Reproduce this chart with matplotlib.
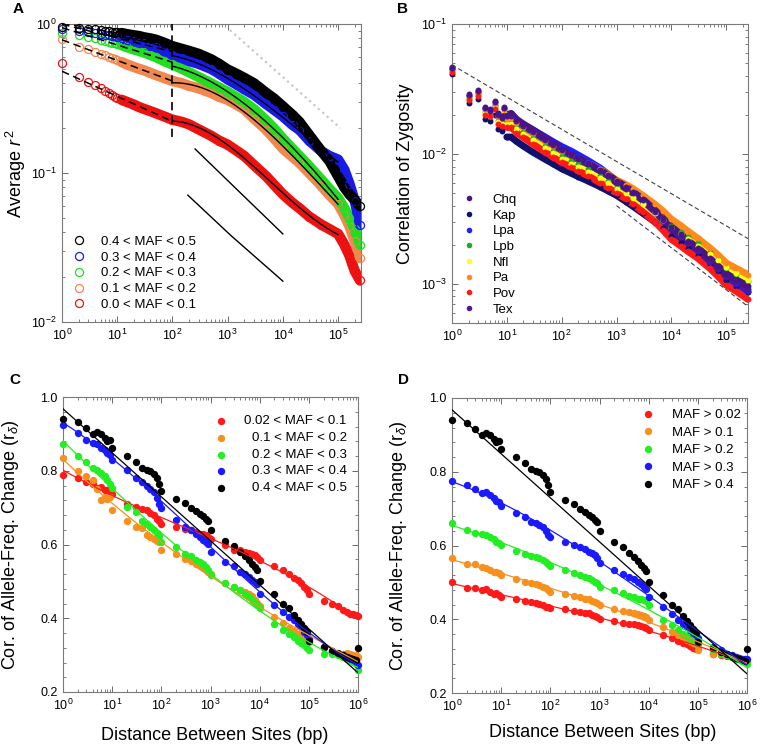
import numpy as np
import matplotlib
matplotlib.use('Agg')
import matplotlib.pyplot as plt
from matplotlib.lines import Line2D
from matplotlib.ticker import LogLocator, NullFormatter, MultipleLocator, FormatStrFormatter

plt.rcParams['font.family'] = ['Liberation Sans', 'DejaVu Sans']
plt.rcParams['mathtext.fontset'] = 'custom'
plt.rcParams['mathtext.rm'] = 'Liberation Sans'
plt.rcParams['mathtext.it'] = 'Liberation Sans:italic'
plt.rcParams['mathtext.bf'] = 'Liberation Sans:bold'

# ---------------- Panel A data ----------------
xa = [1, 2, 3, 4, 5, 6, 7, 8, 9, 10, 12, 15, 20, 25, 30, 40, 50, 70,
      100, 150, 200, 300, 500, 700, 1000, 1500, 2000, 3000, 5000, 7000,
      10000, 15000, 20000, 30000, 50000, 70000, 100000, 130000, 160000, 200000, 250000]
a_labels = ["0.4 < MAF < 0.5", "0.3 < MAF < 0.4", "0.2 < MAF < 0.3", "0.1 < MAF < 0.2", "0.0 < MAF < 0.1"]
a_black = [0.96, 0.94, 0.93, 0.92, 0.91, 0.90, 0.895, 0.89, 0.885, 0.88,
           0.87, 0.855, 0.84, 0.83, 0.815, 0.80, 0.785, 0.75,
           0.71, 0.68, 0.66, 0.63, 0.58, 0.54,
           0.495, 0.46, 0.435, 0.40, 0.345, 0.315,
           0.28, 0.245, 0.22, 0.18, 0.14, 0.12,
           0.095, 0.08, 0.072, 0.066, 0.06]
a_blue = [0.93, 0.90, 0.885, 0.87, 0.86, 0.85, 0.84, 0.83, 0.825, 0.82,
          0.80, 0.785, 0.765, 0.75, 0.74, 0.715, 0.70, 0.66,
          0.62, 0.59, 0.565, 0.54, 0.50, 0.465,
          0.425, 0.39, 0.365, 0.335, 0.29, 0.265,
          0.24, 0.21, 0.195, 0.165, 0.14, 0.13,
          0.123, 0.105, 0.085, 0.065, 0.045]
a_green = [0.87, 0.84, 0.82, 0.80, 0.785, 0.77, 0.76, 0.75, 0.74, 0.735,
           0.72, 0.70, 0.675, 0.66, 0.645, 0.62, 0.60, 0.565,
           0.535, 0.50, 0.475, 0.44, 0.40, 0.375,
           0.35, 0.32, 0.30, 0.268, 0.225, 0.198,
           0.17, 0.145, 0.13, 0.111, 0.09, 0.078,
           0.068, 0.058, 0.05, 0.042, 0.033]
a_orange = [0.79, 0.70, 0.675, 0.65, 0.63, 0.615, 0.60, 0.59, 0.58, 0.57,
            0.555, 0.535, 0.515, 0.50, 0.49, 0.47, 0.455, 0.435,
            0.415, 0.40, 0.385, 0.37, 0.345, 0.325,
            0.31, 0.285, 0.268, 0.232, 0.195, 0.17,
            0.146, 0.128, 0.117, 0.10, 0.082, 0.071,
            0.062, 0.052, 0.044, 0.035, 0.027]
a_red = [0.55, 0.44, 0.41, 0.39, 0.37, 0.355, 0.345, 0.335, 0.325, 0.32,
         0.31, 0.30, 0.288, 0.277, 0.27, 0.26, 0.252, 0.24,
         0.228, 0.22, 0.212, 0.196, 0.178, 0.165,
         0.155, 0.14, 0.13, 0.113, 0.095, 0.083,
         0.072, 0.063, 0.058, 0.051, 0.045, 0.042,
         0.039, 0.033, 0.028, 0.022, 0.019]
a_vline_x = [100, 100]
a_vline_y = [0.175, 1.0]
a_guide1_x = [257, 10000]
a_guide1_y = [0.145, 0.039]
a_guide2_x = [190, 1150, 10000]
a_guide2_y = [0.071, 0.038, 0.0188]
a_gray_x = [1100, 110000]
a_gray_y = [0.91, 0.20]

# ---------------- Panel B data (values x 1e-3) ----------------
xb = [1, 2, 3, 4, 5, 6, 7, 8, 9, 10, 12, 15, 20, 30, 50, 70,
      100, 150, 200, 300, 500, 700, 1000, 1500, 2000, 3000, 5000, 7000,
      10000, 15000, 20000, 30000, 50000, 70000, 100000, 150000, 250000]
b_names = ["Chq", "Kap", "Lpa", "Lpb", "Nfl", "Pa", "Pov", "Tex"]
b_chq = [47, 29, 31, 23, 22, 25.5, 20.5, 19.5, 23, 20, 20.5, 18.5, 17, 15.3, 13.3, 12.2,
         11.0, 10.0, 9.3, 8.5, 7.5, 6.9, 6.2, 5.6, 5.1, 4.5, 3.7, 3.2,
         2.75, 2.4, 2.15, 1.9, 1.58, 1.38, 1.2, 1.08, 0.96]
b_kap = [41, 24.5, 26.5, 18.5, 18, 20, 15.5, 15, 18, 13.5, 13.5, 12.5, 11.5, 10.3, 9.1, 8.4,
         7.7, 7.1, 6.7, 6.2, 5.6, 5.2, 4.8, 4.3, 3.95, 3.5, 3.0, 2.7,
         2.35, 2.1, 1.9, 1.68, 1.42, 1.25, 1.08, 0.97, 0.86]
b_lpa = [45, 28, 30, 22, 21, 24, 19.5, 18.5, 22, 19, 19.5, 17.8, 16.8, 15.3, 13.5, 12.4,
         11.4, 10.5, 9.8, 8.9, 7.8, 7.0, 6.1, 5.4, 4.9, 4.2, 3.5, 3.1,
         2.65, 2.3, 2.05, 1.78, 1.48, 1.3, 1.13, 1.0, 0.88]
b_lpb = [44, 27, 29, 21, 20, 23, 18, 17.5, 21, 17.5, 17.5, 16, 14.8, 13.3, 11.6, 10.6,
         9.6, 8.8, 8.3, 7.6, 6.8, 6.2, 5.6, 5.1, 4.7, 4.2, 3.6, 3.2,
         2.8, 2.5, 2.3, 2.05, 1.75, 1.55, 1.32, 1.2, 1.05]
b_nfl = [43.5, 26.5, 28.5, 20.5, 19.5, 22.5, 17.5, 17, 20.5, 17, 17, 15.5, 14.3, 12.8, 11.1, 10.1,
         9.2, 8.4, 7.9, 7.3, 6.5, 6.0, 5.4, 5.0, 4.6, 4.1, 3.5, 3.1,
         2.7, 2.4, 2.2, 1.95, 1.7, 1.52, 1.35, 1.22, 1.08]
b_pa = [45.5, 27.5, 30, 22, 21, 24.5, 19.5, 18.8, 22, 18.5, 18.8, 17.2, 16, 14.4, 12.6, 11.6,
        10.6, 9.8, 9.2, 8.5, 7.6, 7.0, 6.3, 5.8, 5.4, 4.8, 4.1, 3.65,
        3.15, 2.8, 2.55, 2.25, 1.9, 1.68, 1.45, 1.32, 1.18]
b_pov = [43, 26, 28, 20, 19.5, 22, 17, 16.5, 20, 16, 16, 14.6, 13.4, 11.9, 10.3, 9.4,
         8.6, 7.9, 7.4, 6.8, 6.0, 5.5, 5.0, 4.5, 4.1, 3.6, 3.0, 2.6,
         2.2, 1.95, 1.78, 1.58, 1.32, 1.15, 0.98, 0.88, 0.76]
b_tex = [46, 28.5, 30.5, 22.5, 21.5, 25, 20, 19, 22.5, 19.5, 19.5, 17.8, 16.5, 14.8, 12.9, 11.8,
         10.7, 9.8, 9.1, 8.4, 7.4, 6.8, 6.0, 5.4, 5.0, 4.4, 3.6, 3.1,
         2.65, 2.3, 2.08, 1.82, 1.5, 1.32, 1.15, 1.04, 0.92]
b_upper_x = [1, 250000]
b_upper_y = [0.0484, 0.00223]
b_lower_x = [1000, 250000]
b_lower_y = [0.0040, 0.00067]

# ---------------- Panels C & D data ----------------
xc = [1, 2, 3, 4, 5, 6, 7, 8, 9, 10,
      20, 30, 40, 50, 60, 70, 80, 90, 100,
      200, 300, 400, 500, 600, 700, 800, 900, 1000,
      2000, 3000, 4000, 5000, 6000, 7000, 8000, 9000, 10000,
      20000, 30000, 40000, 50000, 60000, 70000, 80000, 90000, 100000,
      200000, 300000, 400000, 500000, 600000, 700000, 800000, 900000, 1000000]
c_labels = ["0.02 < MAF < 0.1", "0.1 < MAF < 0.2", "0.2 < MAF < 0.3", "0.3 < MAF < 0.4", "0.4 < MAF < 0.5"]
d_labels = ["MAF > 0.02", "MAF > 0.1", "MAF > 0.2", "MAF > 0.3", "MAF > 0.4"]
cd_black = [0.941, 0.932, 0.917, 0.901, 0.904, 0.901, 0.889, 0.880, 0.884, 0.862,
            0.839, 0.824, 0.807, 0.803, 0.798, 0.792, 0.781, 0.765, 0.745,
            0.724, 0.713, 0.700, 0.691, 0.684, 0.676, 0.670, 0.665, 0.640,
            0.610, 0.595, 0.580, 0.568, 0.557, 0.548, 0.539, 0.530, 0.501,
            0.465, 0.440, 0.429, 0.408, 0.394, 0.385, 0.374, 0.363, 0.337,
            0.322, 0.310, 0.305, 0.300, 0.296, 0.292, 0.290, 0.287, 0.318]
c_blue = [0.923, 0.902, 0.884, 0.875, 0.872, 0.863, 0.855, 0.848, 0.842, 0.828,
          0.803, 0.781, 0.769, 0.760, 0.751, 0.742, 0.727, 0.711, 0.700,
          0.666, 0.647, 0.638, 0.629, 0.620, 0.613, 0.607, 0.602, 0.580,
          0.553, 0.541, 0.525, 0.519, 0.512, 0.505, 0.498, 0.492, 0.467,
          0.435, 0.417, 0.403, 0.394, 0.385, 0.376, 0.363, 0.354, 0.345,
          0.322, 0.311, 0.304, 0.300, 0.295, 0.290, 0.286, 0.281, 0.272]
c_green = [0.872, 0.839, 0.824, 0.808, 0.801, 0.794, 0.785, 0.774, 0.765, 0.754,
           0.703, 0.688, 0.665, 0.656, 0.647, 0.638, 0.631, 0.624, 0.607,
           0.593, 0.575, 0.568, 0.559, 0.553, 0.546, 0.539, 0.532, 0.516,
           0.496, 0.485, 0.476, 0.467, 0.458, 0.450, 0.441, 0.435, 0.429,
           0.385, 0.367, 0.358, 0.349, 0.338, 0.333, 0.327, 0.320, 0.313,
           0.304, 0.302, 0.299, 0.295, 0.290, 0.286, 0.281, 0.277, 0.259]
c_orange = [0.835, 0.799, 0.785, 0.774, 0.751, 0.720, 0.729, 0.724, 0.729, 0.694,
            0.665, 0.647, 0.646, 0.625, 0.620, 0.616, 0.609, 0.607, 0.586,
            0.575, 0.562, 0.555, 0.546, 0.541, 0.537, 0.532, 0.525, 0.519,
            0.496, 0.485, 0.477, 0.471, 0.465, 0.459, 0.450, 0.441, 0.432,
            0.403, 0.387, 0.374, 0.365, 0.358, 0.349, 0.345, 0.340, 0.336,
            0.318, 0.308, 0.304, 0.304, 0.306, 0.304, 0.299, 0.299, 0.295]
c_red = [0.788, 0.779, 0.770, 0.765, 0.754, 0.756, 0.749, 0.747, 0.742, 0.738,
         0.711, 0.703, 0.697, 0.693, 0.685, 0.679, 0.670, 0.664, 0.656,
         0.647, 0.643, 0.638, 0.634, 0.629, 0.628, 0.625, 0.620, 0.616,
         0.598, 0.586, 0.584, 0.580, 0.577, 0.575, 0.571, 0.566, 0.559,
         0.543, 0.532, 0.519, 0.510, 0.503, 0.496, 0.485, 0.477, 0.465,
         0.447, 0.440, 0.432, 0.423, 0.417, 0.412, 0.411, 0.408, 0.407]
d_blue = [0.774, 0.764, 0.753, 0.742, 0.744, 0.737, 0.728, 0.722, 0.717, 0.706,
          0.689, 0.677, 0.665, 0.662, 0.656, 0.649, 0.638, 0.629, 0.624,
          0.610, 0.601, 0.597, 0.590, 0.583, 0.579, 0.574, 0.565, 0.552,
          0.533, 0.524, 0.515, 0.508, 0.502, 0.495, 0.488, 0.481, 0.459,
          0.434, 0.414, 0.399, 0.388, 0.379, 0.370, 0.363, 0.357, 0.348,
          0.325, 0.316, 0.307, 0.302, 0.298, 0.296, 0.293, 0.293, 0.293]
d_green = [0.662, 0.642, 0.635, 0.631, 0.629, 0.624, 0.617, 0.610, 0.606, 0.601,
           0.586, 0.577, 0.571, 0.568, 0.565, 0.560, 0.556, 0.550, 0.544,
           0.533, 0.526, 0.520, 0.515, 0.511, 0.506, 0.501, 0.497, 0.488,
           0.479, 0.470, 0.463, 0.461, 0.456, 0.454, 0.452, 0.450, 0.438,
           0.399, 0.384, 0.370, 0.361, 0.354, 0.348, 0.343, 0.339, 0.332,
           0.316, 0.307, 0.302, 0.298, 0.293, 0.291, 0.287, 0.284, 0.278]
d_orange = [0.565, 0.550, 0.550, 0.542, 0.538, 0.533, 0.529, 0.529, 0.526, 0.520,
            0.508, 0.502, 0.497, 0.495, 0.493, 0.488, 0.484, 0.479, 0.475,
            0.468, 0.463, 0.459, 0.456, 0.454, 0.450, 0.447, 0.445, 0.438,
            0.427, 0.423, 0.420, 0.417, 0.414, 0.411, 0.408, 0.405, 0.398,
            0.378, 0.366, 0.357, 0.350, 0.345, 0.341, 0.336, 0.332, 0.316,
            0.307, 0.305, 0.302, 0.300, 0.298, 0.296, 0.293, 0.291, 0.287]
d_red = [0.502, 0.486, 0.486, 0.479, 0.481, 0.475, 0.468, 0.470, 0.465, 0.461,
         0.454, 0.450, 0.447, 0.445, 0.441, 0.438, 0.434, 0.432, 0.430,
         0.427, 0.423, 0.420, 0.417, 0.416, 0.411, 0.408, 0.405, 0.402,
         0.396, 0.390, 0.388, 0.386, 0.384, 0.381, 0.378, 0.375, 0.370,
         0.357, 0.348, 0.341, 0.336, 0.332, 0.327, 0.323, 0.320, 0.318,
         0.307, 0.302, 0.300, 0.298, 0.293, 0.291, 0.289, 0.287, 0.284]
cd_black_fit_x = [1, 1000000]
cd_black_fit_y = [0.968, 0.252]

# ---------------- Styling ----------------
W, H = 760, 749
fig = plt.figure(figsize=(W / 100, H / 100), dpi=100)


def px_axes(l, t, r, b):
    return fig.add_axes([l / W, 1 - b / H, (r - l) / W, (b - t) / H])


def style(ax, logx=True, logy=True):
    if logx:
        ax.set_xscale('log')
        ax.xaxis.set_major_locator(LogLocator(base=10, numticks=20))
        ax.xaxis.set_minor_locator(LogLocator(base=10, subs=np.arange(2, 10), numticks=20))
        ax.xaxis.set_minor_formatter(NullFormatter())
    if logy:
        ax.set_yscale('log')
        ax.yaxis.set_major_locator(LogLocator(base=10, numticks=20))
        ax.yaxis.set_minor_locator(LogLocator(base=10, subs=np.arange(2, 10), numticks=20))
        ax.yaxis.set_minor_formatter(NullFormatter())
    ax.tick_params(which='both', direction='in', top=True, right=True,
                   color='#6a6a6a', labelsize=9, pad=4)
    ax.tick_params(which='major', length=4, width=0.7)
    ax.tick_params(which='minor', length=2, width=0.6)
    for s in ax.spines.values():
        s.set_color('#7a7a7a')
        s.set_linewidth(0.8)


LABFS = 13
LEGFS = 9.5

# ---------------- Panel A ----------------
axA = px_axes(62, 24, 361, 322)
style(axA)
xa_arr = np.array(xa, dtype=float)
a_cols = ['#000000', '#1a1ae6', '#22dd22', '#f2874f', '#ee1111']
a_series = [a_black, a_blue, a_green, a_orange, a_red]
for y, col in list(zip(a_series, a_cols))[::-1]:
    y = np.array(y)
    m = xa_arr >= 12
    axA.plot(xa_arr[m], y[m], '-', color=col, lw=7.5, solid_capstyle='round', zorder=2)
    axA.plot(xa_arr, y, 'o', mfc='none', mec=col, ms=5.8, mew=0.9, clip_on=False, zorder=3)
for y in a_series:
    y = np.array(y)
    m1 = (xa_arr >= 2) & (xa_arr <= 100)
    p1 = np.polyfit(np.log10(xa_arr[m1]), np.log10(y[m1]), 1)
    xf1 = np.logspace(0, 2, 40)
    axA.plot(xf1, 10 ** np.polyval(p1, np.log10(xf1)), color='k', lw=1.1, dashes=(5, 3), zorder=5)
    m2 = (xa_arr >= 100) & (xa_arr <= 1e5)
    p2 = np.polyfit(np.log10(xa_arr[m2]), np.log10(y[m2]), 3)
    xf2 = np.logspace(2, 5, 80)
    axA.plot(xf2, 10 ** np.polyval(p2, np.log10(xf2)), color='k', lw=1.0, zorder=5)
axA.plot(a_vline_x, a_vline_y, color='k', lw=1.2, dashes=(5, 3), zorder=6)
axA.plot(a_guide1_x, a_guide1_y, color='k', lw=1.0, zorder=6)
axA.plot(a_guide2_x, a_guide2_y, color='k', lw=1.0, zorder=6)
axA.plot(a_gray_x, a_gray_y, color='#c8c8c8', lw=1.6, ls=':', zorder=1)
axA.set_xlim(1, 2.6e5)
axA.set_ylim(1e-2, 1.0)
axA.set_ylabel(r'Average $r^{\,2}$', fontsize=LABFS)
axA.yaxis.set_label_coords(-0.115, 0.5)
hA = [Line2D([], [], ls='none', marker='o', mfc='none', mec=c, ms=5.8, mew=0.9) for c in a_cols]
axA.legend(hA, a_labels, loc='upper left', bbox_to_anchor=(0.035, 0.29), frameon=False,
           fontsize=LEGFS, handlelength=1.0, handletextpad=1.15, labelspacing=0.27,
           borderpad=0, borderaxespad=0)

# ---------------- Panel B ----------------
axB = px_axes(452, 24, 748, 323)
style(axB)
xb_arr = np.array(xb, dtype=float)
b_data = {"Chq": b_chq, "Kap": b_kap, "Lpa": b_lpa, "Lpb": b_lpb,
          "Nfl": b_nfl, "Pa": b_pa, "Pov": b_pov, "Tex": b_tex}
b_cols = {"Chq": '#4a1486', "Kap": '#10106e', "Lpa": '#1f1fff', "Lpb": '#22aa22',
          "Nfl": '#ffff1a', "Pa": '#ff8c1a', "Pov": '#ff1a1a', "Tex": '#4f1a8c'}
draw_order = ["Kap", "Lpa", "Lpb", "Nfl", "Pa", "Pov", "Tex", "Chq"]
for n in draw_order:
    v = np.array(b_data[n]) * 1e-3
    m = xb_arr >= 10
    axB.plot(xb_arr[m], v[m], '-', color=b_cols[n], lw=5, solid_capstyle='round', zorder=2)
    axB.plot(xb_arr, v, 'o', color=b_cols[n], ms=4.3, mew=0, clip_on=False, zorder=3)
axB.plot(b_upper_x, b_upper_y, color='#404040', lw=0.8, dashes=(4, 2.5), zorder=5)
axB.plot(b_lower_x, b_lower_y, color='#404040', lw=0.8, dashes=(4, 2.5), zorder=5)
axB.set_xlim(1, 2.5e5)
axB.set_ylim(5e-4, 1e-1)
axB.set_ylabel('Correlation of Zygosity', fontsize=LABFS)
axB.yaxis.set_label_coords(-0.128, 0.5)
hB = [Line2D([], [], ls='none', marker='o', color=b_cols[n], ms=4.0, mew=0) for n in b_names]
axB.legend(hB, b_names, loc='upper left', bbox_to_anchor=(0.035, 0.432), frameon=False,
           fontsize=LEGFS, handlelength=1.0, handletextpad=1.3, labelspacing=0.26,
           borderpad=0, borderaxespad=0)

# ---------------- Panels C & D ----------------
cd_cols = ['#ff1a1a', '#f7901e', '#22ee22', '#1a1aff', '#000000']
xc_arr = np.array(xc, dtype=float)


def draw_cd(ax, series):
    style(ax, logx=True, logy=False)
    for y, col in zip(series, cd_cols):
        ax.plot(xc_arr, y, 'o', color=col, ms=5.3, mew=0, clip_on=False, zorder=3)
    for y, col in zip(series[:-1], cd_cols[:-1]):
        p = np.polyfit(np.log10(xc_arr), np.array(y), 3)
        xf = np.logspace(0, 6, 120)
        ax.plot(xf, np.polyval(p, np.log10(xf)), color=col, lw=0.9, zorder=4)
    ax.plot(cd_black_fit_x, cd_black_fit_y, color='k', lw=0.9, zorder=4)
    ax.set_xlim(1, 1e6)
    ax.set_ylim(0.2, 1.0)
    ax.yaxis.set_major_locator(MultipleLocator(0.2))
    ax.yaxis.set_minor_locator(MultipleLocator(0.04))
    ax.yaxis.set_major_formatter(FormatStrFormatter('%.1f'))
    ax.set_ylabel(r'Cor. of Allele-Freq. Change (r$_\delta$)', fontsize=LABFS)
    ax.set_xlabel('Distance Between Sites (bp)', fontsize=LABFS)


axC = px_axes(63, 397, 358, 692)
draw_cd(axC, [c_red, c_orange, c_green, c_blue, cd_black])
axC.yaxis.set_label_coords(-0.142, 0.5)
axC.xaxis.set_label_coords(0.515, -0.118)
# legend for C: marker at left, text right-aligned
c_leg_marker_x = 0.5346
c_leg_text_right = 0.9617
c_leg_top = 0.9186
c_leg_step = 0.0569
for i, (lab, col) in enumerate(zip(c_labels, cd_cols)):
    yy = c_leg_top - i * c_leg_step
    axC.plot([c_leg_marker_x], [yy], 'o', color=col, ms=5.3, mew=0,
             transform=axC.transAxes, clip_on=False, zorder=6)
    axC.text(c_leg_text_right, yy, lab, transform=axC.transAxes, ha='right', va='center',
             fontsize=LEGFS, zorder=6)

axD = px_axes(452, 398, 747, 693)
draw_cd(axD, [d_red, d_orange, d_green, d_blue, cd_black])
axD.yaxis.set_label_coords(-0.146, 0.5)
axD.xaxis.set_label_coords(0.51, -0.105)
hD = [Line2D([], [], ls='none', marker='o', color=c, ms=5.3, mew=0) for c in cd_cols]
axD.legend(hD, d_labels, loc='upper left', bbox_to_anchor=(0.643, 0.963), frameon=False,
           fontsize=LEGFS, handlelength=1.0, handletextpad=1.27, labelspacing=0.40,
           borderpad=0, borderaxespad=0)

# panel letters
for letter, (x, y) in zip("ABCD", [(18, 9), (402, 9), (15, 380), (403, 380)]):
    fig.text(x / W, 1 - y / H, letter, ha='center', va='center', fontsize=11, fontweight='bold')

fig.savefig('out.png', dpi=100)
